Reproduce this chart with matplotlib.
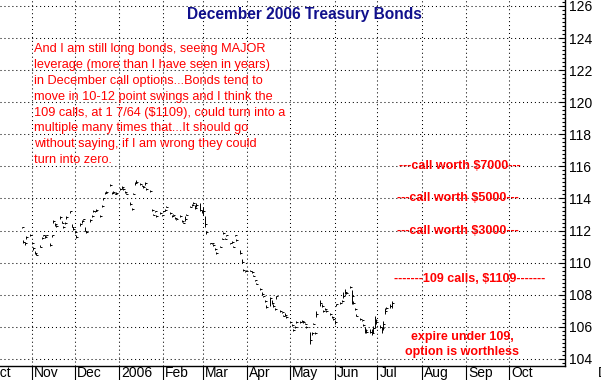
import matplotlib
matplotlib.use("Agg")
import matplotlib.pyplot as plt
import matplotlib.dates as mdates
import pandas as pd
import numpy as np

plt.rcParams['font.family'] = ['Liberation Sans', 'DejaVu Sans']

# ---------------- data (daily HLC bars, Dec 2006 T-Bond futures) ----------------
dates = pd.bdate_range('2005-10-25', '2006-07-11')

close = [
    # Oct
    112.2, 111.3, 111.2, 111.6, 111.7,
    # Nov
    111.2, 110.9, 110.6, 110.5, 111.0, 111.55, 111.7, 111.6, 111.7, 111.1, 111.7,
    112.6, 112.4, 112.3, 112.85, 112.5, 112.25, 112.5, 112.85, 113.2, 112.25, 112.1,
    # Dec
    111.9, 111.6, 112.4, 112.6, 112.7, 112.0, 111.9, 112.65, 112.9, 113.25, 113.2,
    113.3, 112.9, 113.55, 114.0, 114.35, 114.4, 114.85, 114.35, 114.4, 114.3, 114.35,
    # Jan
    114.6, 114.7, 114.57, 114.4, 114.28, 113.66, 113.35, 114.3, 114.95, 115.05, 114.9,
    114.8, 114.74, 114.95, 114.6, 114.47, 113.3, 113.0, 113.2, 112.9, 113.1, 112.95,
    # Feb
    113.2, 113.3, 113.5, 113.1, 112.9, 113.0, 112.8, 112.7, 112.9, 112.6, 112.5,
    112.7, 113.0, 113.5, 113.6, 113.7, 113.4, 113.6, 113.3, 113.2,
    # Mar
    113.2, 112.4, 111.9, 111.2, 111.2, 111.1, 110.85, 110.6, 111.0, 111.5, 111.85,
    111.5, 111.7, 111.2, 111.3, 111.0, 111.7, 111.4, 110.6, 110.05, 109.55, 109.45, 109.5,
    # Apr
    109.5, 109.4, 109.2, 108.9, 108.7, 108.35, 108.05, 107.9, 107.6, 107.26, 107.8,
    107.5, 107.3, 107.1, 107.9, 107.0, 106.9, 106.7, 106.75, 106.6,
    # May
    106.3, 106.1, 105.8, 106.0, 106.3, 106.3, 106.35, 106.3, 106.2, 106.0, 105.2,
    105.6, 106.2, 105.6, 106.8, 107.5, 107.3, 107.0, 107.1, 107.0, 106.8, 106.6, 106.5,
    # Jun
    106.3, 107.4, 107.5, 107.6, 107.9, 108.2, 108.1, 108.5, 107.9, 107.5, 107.1,
    106.7, 106.5, 106.4, 106.1, 105.8, 105.7, 105.7, 105.6, 105.9, 106.4, 106.3,
    # Jul
    106.0, 105.9, 106.2, 107.0, 107.2, 107.3, 107.5,
]

high = [
    112.25, 111.4, 111.3, 111.65, 111.8,
    111.3, 111.0, 110.7, 110.6, 111.1, 111.6, 111.75, 111.7, 111.75, 111.2, 111.75,
    112.65, 112.5, 112.35, 112.9, 112.6, 112.3, 112.55, 112.9, 113.25, 112.4, 112.2,
    112.0, 111.7, 112.45, 112.65, 112.75, 112.2, 111.95, 112.7, 112.95, 113.3, 113.25,
    113.35, 113.0, 113.6, 114.05, 114.4, 114.45, 114.9, 114.4, 114.45, 114.35, 114.4,
    114.65, 114.75, 114.65, 114.45, 114.35, 113.75, 113.4, 114.35, 115.0, 115.15, 114.95,
    114.85, 114.8, 115.0, 114.65, 114.5, 113.35, 113.05, 113.25, 112.95, 113.15, 113.0,
    113.25, 113.35, 113.55, 113.15, 112.95, 113.05, 112.85, 112.75, 112.95, 112.65, 112.55,
    112.9, 113.05, 113.55, 113.65, 113.75, 113.6, 113.7, 113.7, 113.3,
    113.5, 112.9, 112.0, 111.25, 111.25, 111.15, 110.9, 110.65, 111.05, 111.55, 111.9,
    111.55, 111.75, 111.25, 111.35, 111.05, 111.75, 111.45, 110.8, 110.2, 109.6, 109.5, 109.55,
    109.55, 109.45, 109.25, 108.95, 108.75, 108.4, 108.2, 107.95, 107.65, 107.35, 107.85,
    107.7, 107.4, 107.2, 107.9, 107.05, 106.95, 106.75, 106.85, 106.65,
    106.35, 106.15, 105.85, 106.05, 106.35, 106.35, 106.4, 106.35, 106.25, 106.05, 105.7,
    105.7, 106.25, 105.65, 107.0, 107.7, 107.4, 107.05, 107.15, 107.05, 106.85, 106.65, 106.55,
    106.45, 107.45, 107.55, 107.65, 108.2, 108.35, 108.2, 108.55, 108.3, 107.6, 107.2,
    106.8, 106.55, 106.45, 106.2, 106.0, 105.85, 105.85, 105.85, 106.05, 106.7, 106.5,
    106.1, 106.0, 106.35, 107.15, 107.25, 107.45, 107.6,
]

low = [
    112.15, 111.25, 111.1, 111.5, 111.65,
    111.15, 110.8, 110.55, 110.45, 110.95, 111.45, 111.65, 111.55, 111.65, 111.05, 111.6,
    112.5, 112.3, 112.25, 112.75, 112.45, 112.15, 112.4, 112.75, 113.1, 112.2, 112.05,
    111.85, 111.55, 112.3, 112.5, 112.65, 111.95, 111.85, 112.55, 112.85, 113.15, 113.15,
    113.25, 112.85, 113.45, 113.9, 114.3, 114.35, 114.75, 114.3, 114.35, 114.25, 114.3,
    114.55, 114.6, 114.5, 114.35, 114.25, 113.6, 113.3, 114.25, 114.85, 114.95, 114.85,
    114.75, 114.65, 114.85, 114.55, 114.4, 113.25, 112.95, 113.15, 112.85, 113.05, 112.9,
    113.15, 113.25, 113.45, 113.05, 112.85, 112.95, 112.75, 112.65, 112.85, 112.55, 112.45,
    112.6, 112.95, 113.45, 113.55, 113.65, 113.35, 113.5, 113.2, 113.1,
    113.0, 112.2, 111.8, 111.15, 111.15, 111.05, 110.8, 110.55, 110.95, 111.45, 111.8,
    111.45, 111.65, 111.15, 111.25, 110.95, 111.65, 111.35, 110.55, 110.0, 109.5, 109.4, 109.45,
    109.45, 109.35, 109.15, 108.85, 108.65, 108.3, 108.0, 107.85, 107.55, 107.2, 107.3,
    107.45, 107.25, 107.05, 107.75, 106.95, 106.85, 106.65, 106.7, 106.55,
    106.25, 106.05, 105.75, 105.95, 106.25, 106.25, 106.3, 106.25, 106.15, 105.95, 104.9,
    105.5, 106.15, 105.55, 106.6, 107.3, 107.25, 106.95, 107.05, 106.95, 106.75, 106.55, 106.4,
    106.2, 107.3, 107.45, 107.55, 107.8, 108.05, 108.05, 108.4, 107.4, 107.4, 107.05,
    106.65, 106.45, 106.35, 106.05, 105.6, 105.6, 105.6, 105.5, 105.6, 105.9, 106.2,
    105.9, 105.6, 105.8, 106.8, 107.1, 107.2, 107.2,
]

month_ticks = ['2005-10-01', '2005-11-01', '2005-12-01', '2006-01-01', '2006-02-01',
               '2006-03-01', '2006-04-01', '2006-05-01', '2006-06-01', '2006-07-01',
               '2006-08-01', '2006-09-01', '2006-10-01', '2006-12-01']
month_labels = ['Oct', 'Nov', 'Dec', '2006', 'Feb', 'Mar', 'Apr', 'May', 'Jun', 'Jul',
                'Aug', 'Sep', 'Oct', 'D']

title = 'December 2006 Treasury Bonds'
note_lines = [
    'And I am still long bonds, seeing MAJOR',
    'leverage (more than I have seen in years)',
    'in December call options...Bonds tend to',
    'move in 10-12 point swings and I think the',
    '109 calls, at 1 7/64 ($1109), could turn into a',
    'multiple many times that...It should go',
    'without saying, if I am wrong they could',
    'turn into zero.',
]
levels = [(116, '---call worth $7000---'),
          (114, '---call worth $5000---'),
          (112, '---call worth $3000---'),
          (109, '-------109 calls, $1109-------')]

# ---------------- figure ----------------
W, H = 601, 380
fig = plt.figure(figsize=(W / 100, H / 100), dpi=100)
ax = fig.add_axes([0, 1 - 366 / H, 565 / W, 366 / H])

n = min(len(dates), len(close), len(high), len(low))
x = mdates.date2num(dates[:n].to_pydatetime())
ax.vlines(x, low[:n], high[:n], color='black', lw=0.7)
ax.hlines(close[:n], x, x + 1.4, color='black', lw=0.7)

x0 = mdates.date2num(pd.Timestamp('2005-10-09 19:00'))
x1 = mdates.date2num(pd.Timestamp('2006-11-09 06:00'))
ax.set_xlim(x0, x1)
ax.set_ylim(103.56, 126.37)

for s in ['left', 'top']:
    ax.spines[s].set_visible(False)
for s in ['right', 'bottom']:
    ax.spines[s].set_color('black')
    ax.spines[s].set_linewidth(1)

# y axis on right
ax.yaxis.tick_right()
ax.set_yticks(np.arange(104, 127, 2))
ax.yaxis.set_minor_locator(matplotlib.ticker.MultipleLocator(0.25))
ax.tick_params(axis='y', which='major', direction='in', length=4, width=0.8,
               labelsize=10, pad=3, colors='black')
ax.tick_params(axis='y', which='minor', direction='in', length=2.5, width=0.8)

# x axis months
mt = [mdates.date2num(pd.Timestamp(d)) for d in month_ticks]
inside = [m for m in mt if x0 < m < x1]
ax.set_xticks(inside)
ax.set_xticklabels([])
ax.tick_params(axis='x', which='major', direction='out', length=11, width=0.8, colors='black')

ax.grid(True, which='major', color='black', linestyle=(0, (1, 2.8)), linewidth=0.75)

for m, lab in zip(mt, month_labels):
    ax.annotate(lab, xy=(m, 0), xycoords=('data', 'axes fraction'),
                xytext=(2, -7), textcoords='offset pixels', ha='left', va='center',
                fontsize=10, color='black', annotation_clip=False)

# title and notes (pixel positions)
def ptext(px, py, s, **kw):
    fig.text(px / W, 1 - py / H, s, **kw)

ptext(304, 15, title, ha='center', va='center', fontsize=11.2, fontweight='bold',
      color='#10108c')

for i, line in enumerate(note_lines):
    ptext(34, 49 + i * 15.9, line, ha='left', va='center', fontsize=9.2, color='#ff0000')

xc = [460, 458, 458, 470]
for (lv, s), cx in zip(levels, xc):
    ax.annotate(s, xy=(0, lv), xycoords=('figure pixels', 'data'),
                xytext=(cx, 0), textcoords=('figure pixels', 'offset pixels'),
                ha='center', va='center', fontsize=9, fontweight='bold', color='#ff0000')

ptext(462, 337, 'expire under 109,', ha='center', va='center', fontsize=9,
      fontweight='bold', color='#ff0000')
ptext(462, 352, 'option is worthless', ha='center', va='center', fontsize=9,
      fontweight='bold', color='#ff0000')

fig.savefig('out.png', dpi=100)
